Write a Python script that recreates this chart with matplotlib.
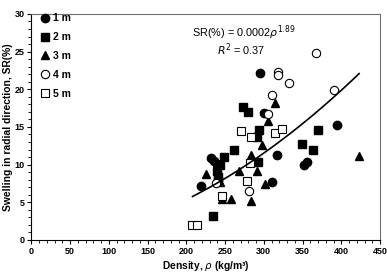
import numpy as np
import matplotlib
matplotlib.use("Agg")
import matplotlib.pyplot as plt
from matplotlib.ticker import MultipleLocator

plt.rcParams['font.family'] = ['Liberation Sans', 'DejaVu Sans']

# density (kg/m3) and radial swelling SR(%) per height class
m1_x = [295, 300, 232, 236, 240, 219, 310, 317, 352, 356, 394]
m1_y = [22.2, 16.9, 10.9, 10.5, 10.1, 7.2, 7.7, 11.3, 10.0, 10.4, 15.2]

m2_x = [273, 280, 294, 291, 370, 261, 248, 243, 239, 241, 241, 293, 349, 364, 235]
m2_y = [17.7, 17.0, 14.6, 13.7, 14.6, 12.0, 11.0, 10.0, 9.2, 8.4, 7.8, 10.4, 12.7, 11.9, 3.2]

m3_x = [314, 305, 298, 283, 291, 268, 226, 243, 302, 246, 258, 284, 423]
m3_y = [18.2, 15.8, 12.6, 11.3, 9.2, 9.1, 8.8, 7.7, 7.4, 5.4, 5.4, 5.2, 11.2]

m4_x = [368, 318, 318, 333, 310, 391, 305, 281, 238]
m4_y = [24.8, 22.3, 21.9, 20.8, 19.2, 19.9, 16.7, 6.5, 7.5]

m5_x = [207, 214, 246, 278, 282, 270, 284, 315, 324]
m5_y = [2.0, 2.0, 5.9, 7.8, 10.2, 14.5, 13.6, 14.2, 14.7]

# power trend line SR = a * rho^b
fit_a = 0.00024
fit_b = 1.89
fit_range = (208, 423)

fig = plt.figure(figsize=(3.87, 2.73), dpi=100)
ax = fig.add_axes([0.081, 0.121, 0.901, 0.828])

ms = 6
ax.plot(m1_x, m1_y, 'o', ms=ms, color='black', label='1 m')
ax.plot(m2_x, m2_y, 's', ms=ms, color='black', label='2 m')
ax.plot(m3_x, m3_y, '^', ms=ms, color='black', label='3 m')
ax.plot(m4_x, m4_y, 'o', ms=ms, mfc='white', mec='black', mew=0.8, label='4 m')
ax.plot(m5_x, m5_y, 's', ms=ms, mfc='white', mec='black', mew=0.8, label='5 m')

xf = np.linspace(fit_range[0], fit_range[1], 100)
ax.plot(xf, fit_a * xf ** fit_b, color='black', lw=1.2)

ax.set_xlim(0, 450)
ax.set_ylim(0, 30)
ax.xaxis.set_major_locator(MultipleLocator(50))
ax.xaxis.set_minor_locator(MultipleLocator(10))
ax.yaxis.set_major_locator(MultipleLocator(5))
ax.yaxis.set_minor_locator(MultipleLocator(1))
ax.tick_params(which='major', direction='out', length=3, width=0.8, labelsize=6.5, pad=2)
ax.tick_params(which='minor', direction='out', length=2, width=0.6)
for lab in ax.get_xticklabels() + ax.get_yticklabels():
    lab.set_fontweight('bold')
for s in ['top', 'right']:
    ax.spines[s].set_color('#707070')
for s in ax.spines.values():
    s.set_linewidth(0.8)

ax.set_xlabel('Density, $\\rho$ (kg/m³)', fontsize=7.4, fontweight='bold', labelpad=2)
ax.set_ylabel('Swelling in radial direction, SR(%)', fontsize=7.4, fontweight='bold', labelpad=1)

ax.text(0.46, 0.915, 'SR(%) = 0.0002$\\it{\\rho}^{1.89}$', transform=ax.transAxes,
        fontsize=7.8, ha='left', va='center')
ax.text(0.532, 0.842, '$\\it{R}^2$ = 0.37', transform=ax.transAxes,
        fontsize=7.8, ha='left', va='center')

ax.legend(loc='upper left', bbox_to_anchor=(0.01, 1.03), frameon=False,
          handlelength=0.8, handletextpad=0.3, labelspacing=0.85, borderpad=0.1,
          prop={'weight': 'bold', 'size': 7.5})

fig.savefig('out.png', dpi=100)
